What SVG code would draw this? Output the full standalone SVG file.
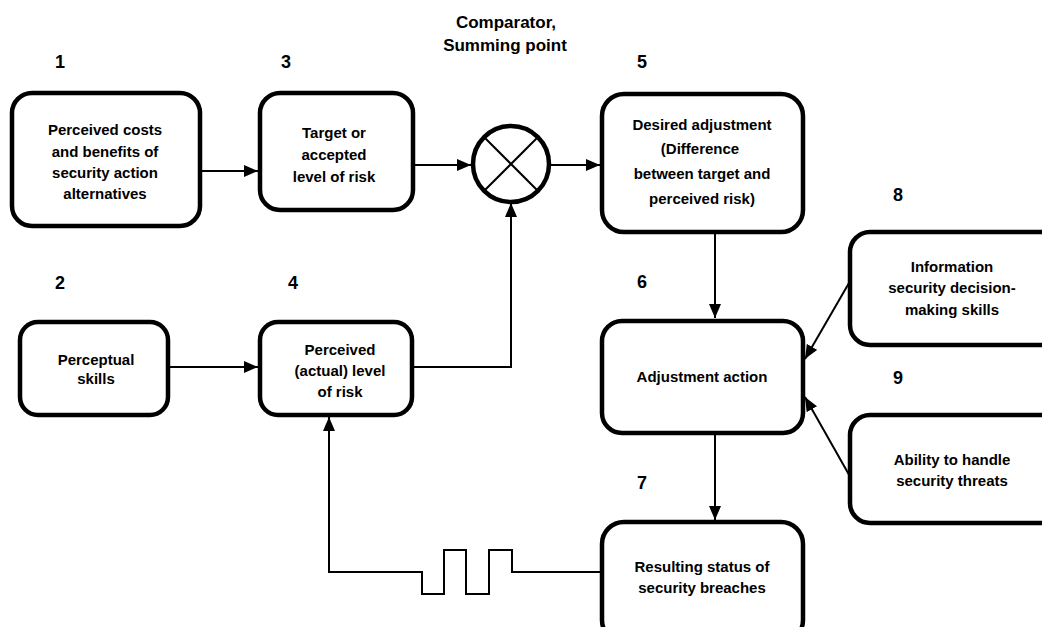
<svg xmlns="http://www.w3.org/2000/svg" width="1042" height="627" viewBox="0 0 1042 627">
<style>
.box{fill:#fff;stroke:#000;stroke-width:4.5}
.t{font-family:"Liberation Sans",Arial,sans-serif;font-weight:bold;font-size:15px;text-anchor:middle;fill:#000}
.n{font-family:"Liberation Sans",Arial,sans-serif;font-weight:bold;font-size:18px;text-anchor:middle;fill:#000}
.c{font-family:"Liberation Sans",Arial,sans-serif;font-weight:bold;font-size:17px;text-anchor:middle;fill:#000}
.ln{fill:none;stroke:#000;stroke-width:2}
</style>
<defs>
<marker id="ah" viewBox="0 0 14 12" refX="14" refY="6" markerWidth="14" markerHeight="12" markerUnits="userSpaceOnUse" orient="auto">
<path d="M0,0 L14,6 L0,12 Z" fill="#000"/>
</marker>
</defs>
<rect width="1042" height="627" fill="#fff"/>

<g id="labels">
<text class="c" x="506" y="28">Comparator,</text>
<text class="c" x="505" y="51">Summing point</text>
<text class="n" x="60" y="68">1</text>
<text class="n" x="286" y="68">3</text>
<text class="n" x="642" y="68">5</text>
<text class="n" x="898" y="201">8</text>
<text class="n" x="60" y="289">2</text>
<text class="n" x="293" y="289">4</text>
<text class="n" x="642" y="288">6</text>
<text class="n" x="898" y="384">9</text>
<text class="n" x="642" y="489">7</text>
</g>

<g id="connectors">
<line class="ln" x1="200" y1="171" x2="258" y2="171" marker-end="url(#ah)"/>
<line class="ln" x1="413" y1="165" x2="471" y2="165" marker-end="url(#ah)"/>
<line class="ln" x1="550" y1="165" x2="600" y2="165" marker-end="url(#ah)"/>
<line class="ln" x1="168" y1="367" x2="258" y2="367" marker-end="url(#ah)"/>
<polyline class="ln" points="412,367 511,367 511,203" marker-end="url(#ah)"/>
<line class="ln" x1="715" y1="232" x2="715" y2="318" marker-end="url(#ah)"/>
<line class="ln" x1="715" y1="433" x2="715" y2="520" marker-end="url(#ah)"/>
<line class="ln" x1="849" y1="283" x2="805" y2="359" marker-end="url(#ah)"/>
<line class="ln" x1="852" y1="480" x2="805" y2="397" marker-end="url(#ah)"/>
<polyline class="ln" points="602,572 512,572 512,550 489,550 489,594 466,594 466,550 444,550 444,594 422,594 422,572 329,572 329,417" marker-end="url(#ah)"/>
</g>

<g id="n1"><rect class="box" x="12" y="93" width="188" height="133" rx="20"/>
<text class="t" x="105" y="135">Perceived costs</text>
<text class="t" x="105" y="157">and benefits of</text>
<text class="t" x="105" y="178">security action</text>
<text class="t" x="105" y="199">alternatives</text></g>

<g id="n3"><rect class="box" x="260" y="93" width="153" height="117" rx="20"/>
<text class="t" x="334" y="138">Target or</text>
<text class="t" x="334" y="160">accepted</text>
<text class="t" x="334" y="182">level of risk</text></g>

<g id="comparator"><circle cx="511" cy="164" r="38" fill="#fff" stroke="#000" stroke-width="4.5"/>
<line class="ln" x1="485" y1="138" x2="537" y2="190"/>
<line class="ln" x1="537" y1="138" x2="485" y2="190"/></g>

<g id="n5"><rect class="box" x="602" y="94" width="201" height="138" rx="22"/>
<text class="t" x="702" y="130">Desired adjustment</text>
<text class="t" x="700" y="154">(Difference</text>
<text class="t" x="702" y="179">between target and</text>
<text class="t" x="702" y="204">perceived risk)</text></g>

<g id="n2"><rect class="box" x="20" y="322" width="148" height="93" rx="18"/>
<text class="t" x="96" y="365">Perceptual</text>
<text class="t" x="96" y="384">skills</text></g>

<g id="n4"><rect class="box" x="260" y="322" width="152" height="93" rx="18"/>
<text class="t" x="340" y="355">Perceived</text>
<text class="t" x="340" y="376">(actual) level</text>
<text class="t" x="340" y="397">of risk</text></g>

<g id="n6"><rect class="box" x="602" y="321" width="201" height="112" rx="20"/>
<text class="t" x="702" y="382">Adjustment action</text></g>

<g id="n8"><rect class="box" x="850" y="232" width="210" height="113" rx="20"/>
<text class="t" x="952" y="272">Information</text>
<text class="t" x="952" y="293">security decision-</text>
<text class="t" x="952" y="315">making skills</text></g>

<g id="n9"><rect class="box" x="850" y="415" width="210" height="108" rx="20"/>
<text class="t" x="952" y="465">Ability to handle</text>
<text class="t" x="952" y="486">security threats</text></g>

<g id="n7"><rect class="box" x="602" y="522" width="201" height="120" rx="22"/>
<text class="t" x="702" y="572">Resulting status of</text>
<text class="t" x="702" y="593">security breaches</text></g>
</svg>
